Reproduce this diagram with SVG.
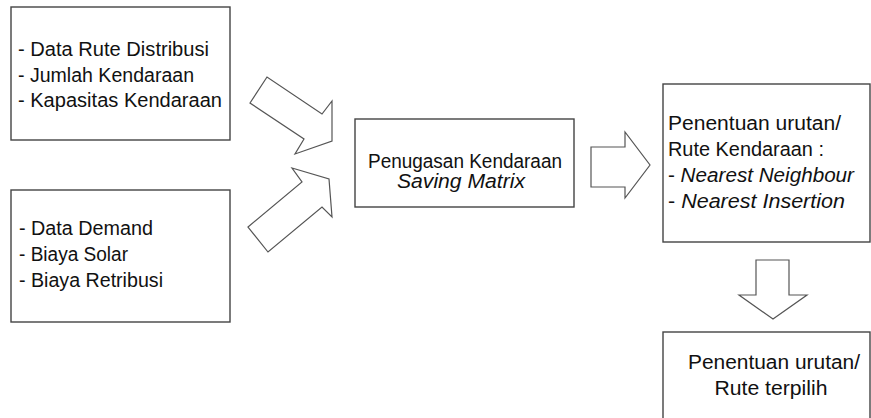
<svg xmlns="http://www.w3.org/2000/svg" width="871" height="418" viewBox="0 0 871 418">
  <style>
    .box { fill: #ffffff; stroke: #444444; stroke-width: 1.4; }
    .arrow { fill: #ffffff; stroke: #555555; stroke-width: 1.2; stroke-linejoin: miter; }
    .t { font-family: "Liberation Sans", "Open Sans", Arial, sans-serif; font-size: 19.5px; fill: #111111; }
    .c { text-anchor: middle; }
    .i { font-style: italic; }
  </style>
  <rect width="871" height="418" fill="#ffffff"/>

  <!-- input data -->
  <g id="input-route">
    <rect class="box" x="11" y="7" width="219" height="133"/>
    <text class="t" x="18" y="56" textLength="191" lengthAdjust="spacingAndGlyphs">- Data Rute Distribusi</text>
    <text class="t" x="18" y="82" textLength="176" lengthAdjust="spacingAndGlyphs">- Jumlah Kendaraan</text>
    <text class="t" x="18" y="107" textLength="204" lengthAdjust="spacingAndGlyphs">- Kapasitas Kendaraan</text>
  </g>

  <g id="input-cost">
    <rect class="box" x="11" y="190" width="219" height="132"/>
    <text class="t" x="19" y="235" textLength="134" lengthAdjust="spacingAndGlyphs">- Data Demand</text>
    <text class="t" x="19" y="261" textLength="109" lengthAdjust="spacingAndGlyphs">- Biaya Solar</text>
    <text class="t" x="19" y="287" textLength="144" lengthAdjust="spacingAndGlyphs">- Biaya Retribusi</text>
  </g>

  <!-- vehicle assignment -->
  <g id="assignment">
    <rect class="box" x="355" y="119" width="219" height="88"/>
    <text class="t c" x="465" y="168" textLength="194" lengthAdjust="spacingAndGlyphs">Penugasan Kendaraan</text>
    <text class="t c i" x="461" y="188" textLength="128" lengthAdjust="spacingAndGlyphs">Saving Matrix</text>
  </g>

  <!-- route sequencing -->
  <g id="sequencing">
    <rect class="box" x="663" y="84" width="207" height="158"/>
    <text class="t" x="668" y="130" textLength="173" lengthAdjust="spacingAndGlyphs">Penentuan urutan/</text>
    <text class="t" x="668" y="156" textLength="156" lengthAdjust="spacingAndGlyphs">Rute Kendaraan :</text>
    <text class="t" x="668" y="182" textLength="186" lengthAdjust="spacingAndGlyphs">- <tspan class="i">Nearest Neighbour</tspan></text>
    <text class="t" x="668" y="208" textLength="177" lengthAdjust="spacingAndGlyphs">- <tspan class="i">Nearest Insertion</tspan></text>
  </g>

  <!-- selected route -->
  <g id="selected-route">
    <rect class="box" x="663" y="332" width="207" height="90"/>
    <text class="t c" x="774" y="369" textLength="172" lengthAdjust="spacingAndGlyphs">Penentuan urutan/</text>
    <text class="t c" x="771" y="395" textLength="113" lengthAdjust="spacingAndGlyphs">Rute terpilih</text>
  </g>

  <!-- block arrows -->
  <g id="connectors">
    <polygon class="arrow" points="250,103 267,77 322,114 332,101 332,141 295,154 304,139"/>
    <polygon class="arrow" points="248,227 302,182 292,168 329,179 332,217 322,207 268,252"/>
    <polygon class="arrow" points="591,147 625,147 625,132 650,165 625,198 625,187 591,187"/>
    <polygon class="arrow" points="756,260 789,260 789,295 807,295 773,319 739,295 756,295"/>
  </g>
</svg>
